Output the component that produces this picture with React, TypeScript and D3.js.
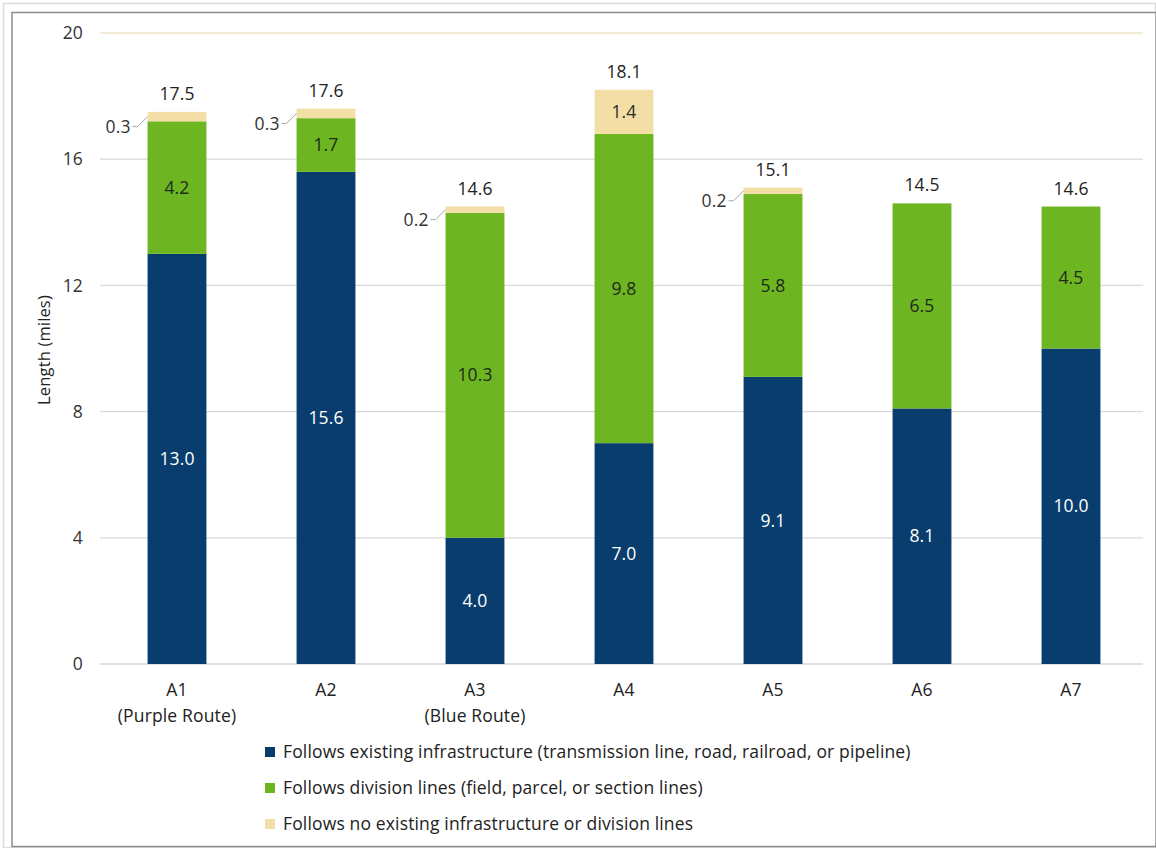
import React from "react";
import * as d3 from "d3";

const categories = ["A1", "A2", "A3", "A4", "A5", "A6", "A7"];
const subLabels = ["(Purple Route)", "", "(Blue Route)", "", "", "", ""];
const infrastructure = [13.0, 15.6, 4.0, 7.0, 9.1, 8.1, 10.0];
const divisionLines = [4.2, 1.7, 10.3, 9.8, 5.8, 6.5, 4.5];
const noExisting = [0.3, 0.3, 0.2, 1.4, 0.2, 0, 0];
const totals = ["17.5", "17.6", "14.6", "18.1", "15.1", "14.5", "14.6"];
const yTicks = [0, 4, 8, 12, 16, 20];
const seriesNames = [
  "Follows existing infrastructure (transmission line, road, railroad, or pipeline)",
  "Follows division lines (field, parcel, or section lines)",
  "Follows no existing infrastructure or division lines",
];
const seriesColors = ["#093d6e", "#6db521", "#f3dfa6"];
const labelColors = ["#ffffff", "#1e2a1a", "#2a2a2a"];

const W = 1156;
const H = 848;
const FONT = "'Open Sans', Lato, sans-serif";
const FS = 17.5;
const LS = 0.15;

export default function App() {
  const x = d3.scaleBand().domain(categories).range([102.5, 1145.5]).paddingInner(0.605).paddingOuter(0.3025);
  const y = d3.scaleLinear().domain([0, 20]).range([664, 33]);
  const bw = x.bandwidth();

  const rows = categories.map((c, i) => ({
    cat: c,
    vals: [infrastructure[i], divisionLines[i], noExisting[i]],
  }));
  const stack = d3.stack<any>().keys(["0", "1", "2"]).value((d: any, k: string) => d.vals[+k]);
  const stacked = stack(rows as any);

  return (
    <svg width={W} height={H} style={{ position: "absolute", left: 0, top: 0, background: "#fff" }} fontFamily={FONT} letterSpacing={LS}>
      <rect x={3.5} y={3.5} width={W - 4} height={H - 4} fill="#fff" stroke="#dcdcdc" strokeWidth={1.5} />
      <rect x={12} y={12.5} width={W - 12} height={H - 14} fill="#fff" stroke="#8c8c8c" strokeWidth={1.5} />

      {yTicks.map((t) => (
        <g key={t}>
          <line
            x1={100}
            x2={1143}
            y1={y(t)}
            y2={y(t)}
            stroke={t === 20 ? "#e6d9ad" : t === 0 ? "#c4c4c4" : "#d9d9d9"}
            strokeWidth={1.2}
          />
          <text x={83} y={y(t)} dy="0.35em" textAnchor="end" fontSize={FS} fill="#333">
            {t}
          </text>
        </g>
      ))}

      <text transform={`translate(50,${350}) rotate(-90)`} textAnchor="middle" fontSize={16.5} fill="#222">
        Length (miles)
      </text>

      {stacked.map((layer: any, si: number) =>
        layer.map((seg: any, i: number) => {
          const v = seg[1] - seg[0];
          if (v <= 0) return null;
          const x0 = x(categories[i])!;
          const top = y(seg[1]);
          const bot = y(seg[0]);
          const mid = (top + bot) / 2;
          const inside = v >= 1;
          return (
            <g key={`${si}-${i}`}>
              <rect x={x0} y={top} width={bw} height={bot - top} fill={seriesColors[si]} />
              {inside ? (
                <text x={x0 + bw / 2} y={mid} dy="0.35em" textAnchor="middle" fontSize={FS} fill={labelColors[si]}>
                  {v.toFixed(1)}
                </text>
              ) : (
                <g>
                  <path
                    d={`M${x0 - 15},${mid + 10} L${x0 - 10},${mid + 10} L${x0},${mid}`}
                    fill="none"
                    stroke="#a6a6a6"
                    strokeWidth={1}
                  />
                  <text x={x0 - 17} y={mid + 10} dy="0.35em" textAnchor="end" fontSize={FS} fill="#333">
                    {v.toFixed(1)}
                  </text>
                </g>
              )}
            </g>
          );
        })
      )}

      {categories.map((c, i) => {
        const top = y(infrastructure[i] + divisionLines[i] + noExisting[i]);
        return (
          <text key={c} x={x(c)! + bw / 2} y={top - 18} dy="0.35em" textAnchor="middle" fontSize={FS} fill="#222">
            {totals[i]}
          </text>
        );
      })}

      {categories.map((c, i) => (
        <g key={`xl-${c}`}>
          <text x={x(c)! + bw / 2} y={690} dy="0.35em" textAnchor="middle" fontSize={FS} fill="#222">
            {c}
          </text>
          {subLabels[i] && (
            <text x={x(c)! + bw / 2} y={716} dy="0.35em" textAnchor="middle" fontSize={FS} fill="#222">
              {subLabels[i]}
            </text>
          )}
        </g>
      ))}

      {seriesNames.map((n, i) => (
        <g key={n} transform={`translate(265,${752 + i * 36})`}>
          <rect x={0} y={-5} width={10} height={10} fill={seriesColors[i]} />
          <text x={18} y={0} dy="0.35em" fontSize={FS} fill="#222">
            {n}
          </text>
        </g>
      ))}
    </svg>
  );
}
